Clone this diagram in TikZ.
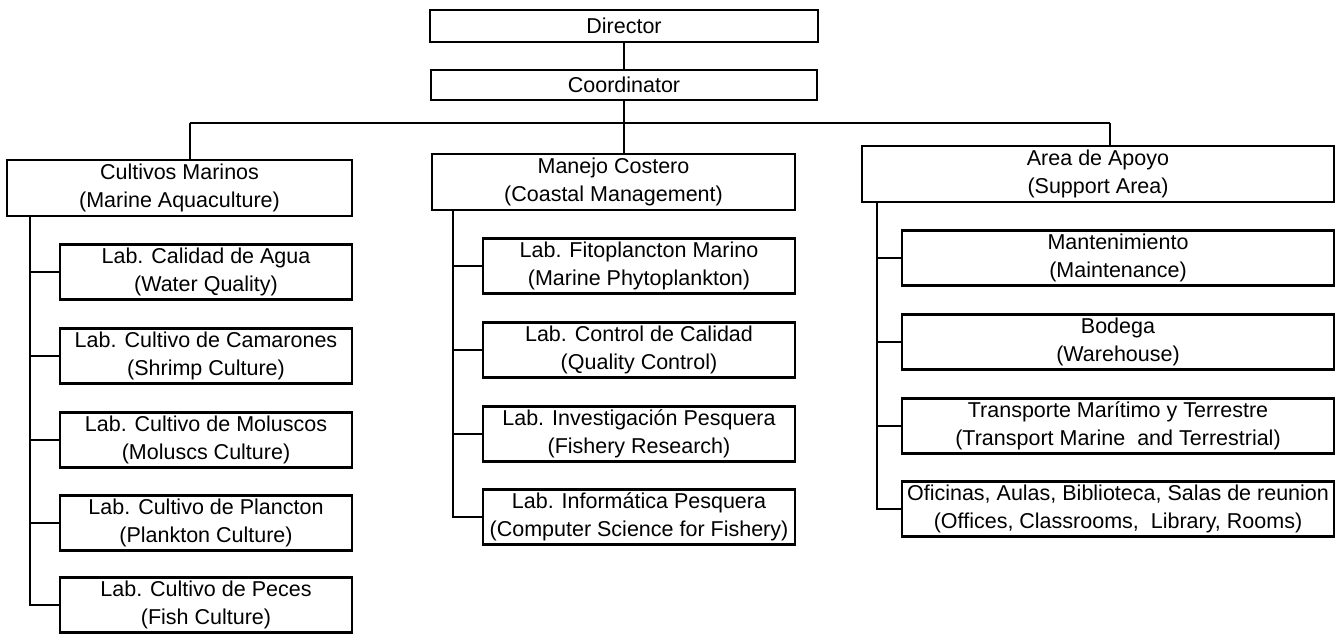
\documentclass[tikz,border=0pt]{standalone}
\usepackage{fontspec}
\setmainfont{Liberation Sans}
\begin{document}
\begin{tikzpicture}[x=1pt,y=-1pt,
  box/.style={draw, line width=2.6pt, inner sep=0pt, align=center,
              font=\fontsize{21.5}{28}\selectfont},
  link/.style={line width=1.4pt}]
\useasboundingbox (0,0) rectangle (1342,634);

% top of the hierarchy
\node[box, minimum width=388, minimum height=32] (dir)   at (624,26) {Director};
\node[box, minimum width=386, minimum height=30] (coord) at (624,85) {Coordinator};

% the three areas
\node[box, minimum width=345, minimum height=56] (cm) at (179.5,188) {Cultivos Marinos\\(Marine Aquaculture)};
\node[box, minimum width=363, minimum height=56] (mc) at (613.5,182) {Manejo Costero\\(Coastal Management)};
\node[box, minimum width=472, minimum height=56] (aa) at (1098,174) {Area de Apoyo\\(Support Area)};

% marine aquaculture labs
\node[box, minimum width=292, minimum height=55] (cm1) at (206,272) {Lab. Calidad de Agua\\(Water Quality)};
\node[box, minimum width=292, minimum height=55] (cm2) at (206,356) {Lab. Cultivo de Camarones\\(Shrimp Culture)};
\node[box, minimum width=292, minimum height=55] (cm3) at (206,440) {Lab. Cultivo de Moluscos\\(Moluscs Culture)};
\node[box, minimum width=292, minimum height=55] (cm4) at (206,523) {Lab. Cultivo de Plancton\\(Plankton Culture)};
\node[box, minimum width=292, minimum height=55] (cm5) at (206,605) {Lab. Cultivo de Peces\\(Fish Culture)};

% coastal management labs
\node[box, minimum width=312, minimum height=55] (mc1) at (639,266) {Lab. Fitoplancton Marino\\(Marine Phytoplankton)};
\node[box, minimum width=312, minimum height=55] (mc2) at (639,350) {Lab. Control de Calidad\\(Quality Control)};
\node[box, minimum width=312, minimum height=55] (mc3) at (639,434) {Lab. Investigación Pesquera\\(Fishery Research)};
\node[box, minimum width=312, minimum height=55] (mc4) at (639,517) {Lab. Informática Pesquera\\(Computer Science for Fishery)};

% support units
\node[box, minimum width=432, minimum height=55] (aa1) at (1118,258) {Mantenimiento\\(Maintenance)};
\node[box, minimum width=432, minimum height=55] (aa2) at (1118,342) {Bodega\\(Warehouse)};
\node[box, minimum width=432, minimum height=55] (aa3) at (1118,426) {Transporte Marítimo y Terrestre\\(Transport Marine\ \ and Terrestrial)};
\node[box, minimum width=432, minimum height=55] (aa4) at (1118,509) {Oficinas, Aulas, Biblioteca, Salas de reunion\\(Offices, Classrooms,\ \ Library, Rooms)};

% junction points
\coordinate (jl) at (190,123);
\coordinate (jr) at (1110,123);
\coordinate (bl) at (30,0);
\coordinate (bm) at (453,0);
\coordinate (br) at (877,0);

% main trunk
\draw[link] (dir) -- (coord);
\draw[link] (coord.south) -- (coord.south |- mc.north);
\draw[link] (jl) -- (jr);
\draw[link] (jl) -- (jl |- cm.north);
\draw[link] (jr) -- (jr |- aa.north);

% branches to the labs
\draw[link] (bl |- cm.south) -- (bl |- cm5.west) -- (cm5.west);
\foreach \n in {cm1,cm2,cm3,cm4} \draw[link] (bl |- \n.west) -- (\n.west);
\draw[link] (bm |- mc.south) -- (bm |- mc4.west) -- (mc4.west);
\foreach \n in {mc1,mc2,mc3} \draw[link] (bm |- \n.west) -- (\n.west);
\draw[link] (br |- aa.south) -- (br |- aa4.west) -- (aa4.west);
\foreach \n in {aa1,aa2,aa3} \draw[link] (br |- \n.west) -- (\n.west);
\end{tikzpicture}
\end{document}
